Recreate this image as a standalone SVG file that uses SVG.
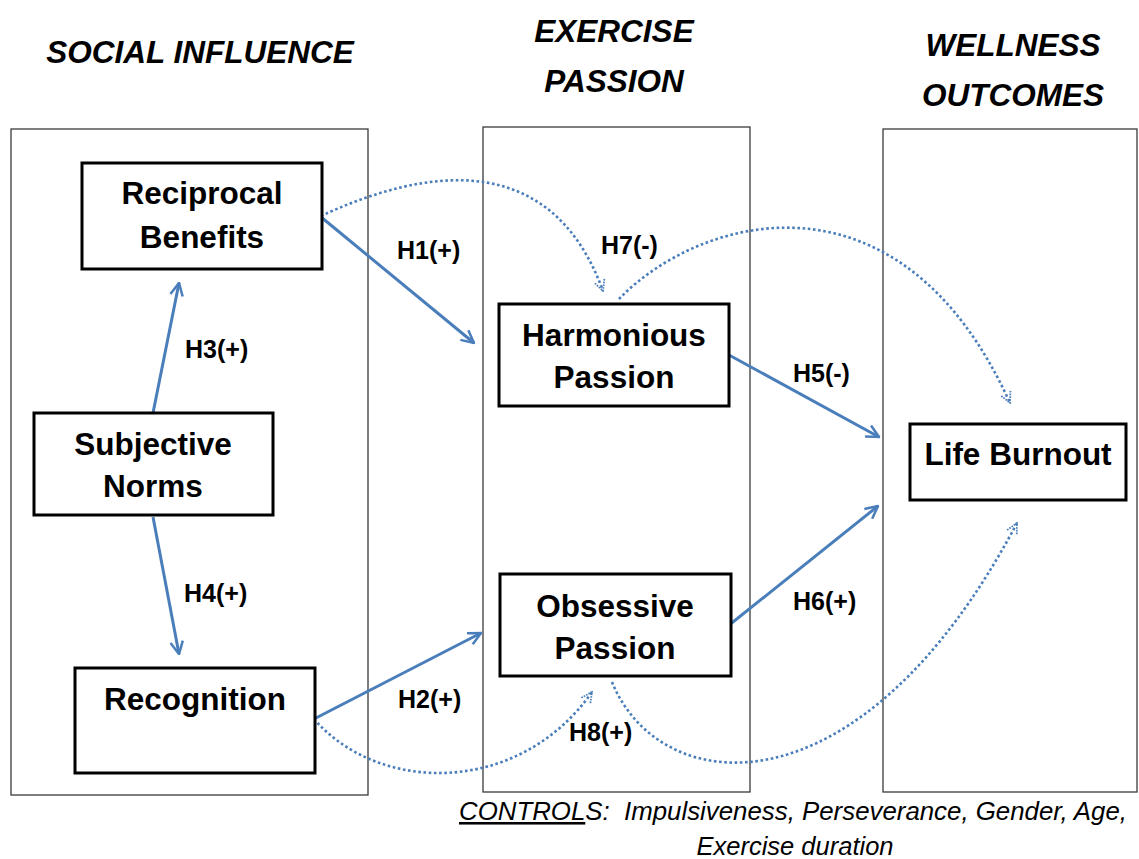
<svg xmlns="http://www.w3.org/2000/svg" width="1139" height="859" viewBox="0 0 1139 859">
<style>
.col{fill:#fff;stroke:#3a3a3a;stroke-width:1.3}
.node{fill:#fff;stroke:#000;stroke-width:3}
.nt{font-family:"Liberation Sans",Arial,sans-serif;font-weight:bold;font-size:31.5px;fill:#000;text-anchor:middle}
.hd{font-family:"Liberation Sans",Arial,sans-serif;font-weight:bold;font-style:italic;font-size:31.5px;fill:#000;text-anchor:middle}
.lb{font-family:"Liberation Sans",Arial,sans-serif;font-weight:bold;font-size:25px;fill:#000}
.ct{font-family:"Liberation Sans",Arial,sans-serif;font-style:italic;font-size:25.5px;fill:#000;white-space:pre}
.solid{fill:none;stroke:#4a7ebb;stroke-width:3}
.dot{fill:none;stroke:#4a7ebb;stroke-width:2.6;stroke-dasharray:2.6 2.6}
</style>
<defs>
<marker id="ah" viewBox="0 0 12 12" refX="11" refY="6" markerWidth="5" markerHeight="5" orient="auto" markerUnits="strokeWidth">
<path d="M1,1 L11,6 L1,11" fill="none" stroke="#4a7ebb" stroke-width="2"/>
</marker>
<marker id="ahd" viewBox="0 0 12 12" refX="11" refY="6" markerWidth="5" markerHeight="5" orient="auto" markerUnits="strokeWidth">
<path d="M1,1 L11,6 L1,11" fill="none" stroke="#4a7ebb" stroke-width="1.6" stroke-dasharray="1.5 1"/>
</marker>
</defs>
<rect width="1139" height="859" fill="#fff"/>
<g id="headers">
<text class="hd" x="200" y="63">SOCIAL INFLUENCE</text>
<text class="hd" x="614" y="42">EXERCISE</text>
<text class="hd" x="614" y="92">PASSION</text>
<text class="hd" x="1013" y="56">WELLNESS</text>
<text class="hd" x="1013" y="106">OUTCOMES</text>
</g>
<g id="columns">
<rect class="col" x="11" y="129" width="357" height="666"/>
<rect class="col" x="483" y="127" width="267" height="665"/>
<rect class="col" x="883" y="129" width="254" height="663"/>
</g>
<g id="connectors">
<line class="solid" x1="321" y1="217" x2="474" y2="343" marker-end="url(#ah)"/>
<line class="solid" x1="729" y1="355" x2="879" y2="437" marker-end="url(#ah)"/>
<line class="solid" x1="728" y1="626" x2="878" y2="506" marker-end="url(#ah)"/>
<line class="solid" x1="314" y1="719" x2="481" y2="633" marker-end="url(#ah)"/>
<line class="solid" x1="153" y1="413" x2="179" y2="283" marker-end="url(#ah)"/>
<line class="solid" x1="153" y1="517" x2="179" y2="654" marker-end="url(#ah)"/>
<path class="dot" d="M321,216 C420,170 550,145 603,291" marker-end="url(#ahd)"/>
<path class="dot" d="M619,299 C700,215 900,160 1010,403" marker-end="url(#ahd)"/>
<path class="dot" d="M314,719 C380,795 520,795 592,692" marker-end="url(#ahd)"/>
<path class="dot" d="M612,682 C660,800 860,820 1017,523" marker-end="url(#ahd)"/>
</g>
<g id="labels">
<text class="lb" x="397" y="259">H1(+)</text>
<text class="lb" x="601" y="254">H7(-)</text>
<text class="lb" x="185" y="358">H3(+)</text>
<text class="lb" x="793" y="382">H5(-)</text>
<text class="lb" x="184" y="602">H4(+)</text>
<text class="lb" x="793" y="610">H6(+)</text>
<text class="lb" x="398" y="708">H2(+)</text>
<text class="lb" x="569" y="741">H8(+)</text>
</g>
<g id="node-reciprocal">
<rect class="node" x="82" y="163" width="240" height="106"/>
<text class="nt" x="202" y="204">Reciprocal</text>
<text class="nt" x="202" y="248">Benefits</text>
</g>
<g id="node-subjective">
<rect class="node" x="34" y="413" width="239" height="102"/>
<text class="nt" x="153" y="455">Subjective</text>
<text class="nt" x="153" y="497">Norms</text>
</g>
<g id="node-recognition">
<rect class="node" x="75" y="668" width="240" height="105"/>
<text class="nt" x="195" y="710">Recognition</text>
</g>
<g id="node-harmonious">
<rect class="node" x="499" y="304" width="230" height="102"/>
<text class="nt" x="614" y="346">Harmonious</text>
<text class="nt" x="614" y="388">Passion</text>
</g>
<g id="node-obsessive">
<rect class="node" x="500" y="574" width="231" height="102"/>
<text class="nt" x="615" y="617">Obsessive</text>
<text class="nt" x="615" y="659">Passion</text>
</g>
<g id="node-burnout">
<rect class="node" x="910" y="424" width="216" height="76"/>
<text class="nt" x="1018" y="465">Life Burnout</text>
</g>
<g id="controls">
<text class="ct" x="459" y="820" textLength="668" lengthAdjust="spacingAndGlyphs" xml:space="preserve"><tspan text-decoration="underline">CONTROL</tspan>S:  Impulsiveness, Perseverance, Gender, Age,</text>
<text class="ct" x="795" y="855" text-anchor="middle">Exercise duration</text>
</g>
</svg>
